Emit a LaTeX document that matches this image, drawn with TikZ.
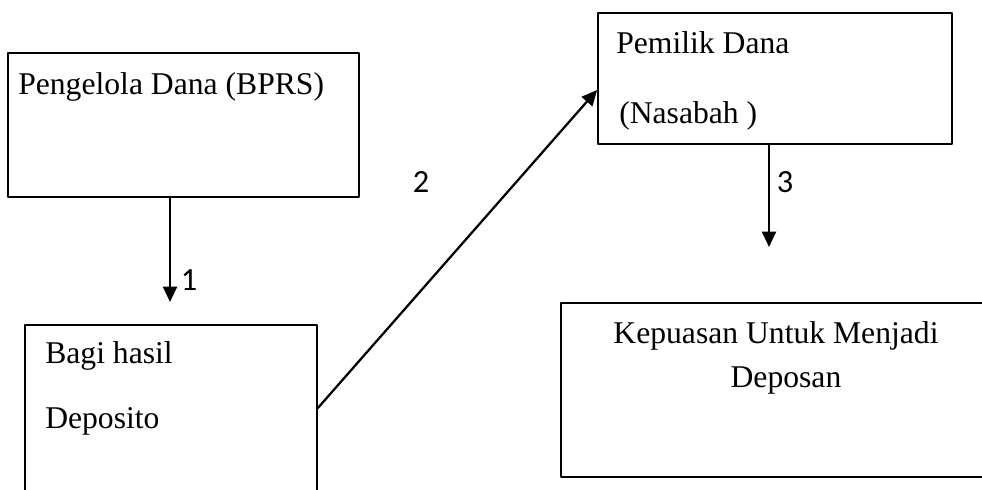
\documentclass[tikz,border=0pt]{standalone}
\usepackage{fontspec}
\setmainfont{Liberation Serif}
\newfontfamily\numfont{Carlito}
\usetikzlibrary{arrows.meta}
\begin{document}
\begin{tikzpicture}[line cap=round,line join=round,>={Triangle[width=10pt,length=11pt]},x=0.025cm,y=-0.025cm,
  box/.style={draw,line width=1.2pt,inner sep=0pt},
  txt/.style={inner sep=0pt,font=\fontsize{22.5}{27}\selectfont},
  num/.style={inner sep=0pt,font=\fontsize{23}{27}\selectfont\numfont},
  link/.style={->,line width=1.6pt}]
\useasboundingbox (0,0) rectangle (982,489);
\clip (0,0) rectangle (982,489);
% boxes
\node [box,minimum width=8.775cm,minimum height=3.6cm] (pengelola) at (183.5,125) {};
\node [box,minimum width=7.3cm,minimum height=5.375cm] (bagi) at (171,432.5) {};
\node [box,minimum width=8.85cm,minimum height=3.275cm] (pemilik) at (775,78.5) {};
\node [box,minimum width=12.475cm,minimum height=4.35cm] (kepuasan) at (810.5,390) {};
% texts
\node [txt,anchor=base west] (tpengelola) at (18,94) {Pengelola Dana (BPRS)};
\node [txt,anchor=base west] (tbagi) at (45,363) {Bagi hasil};
\node [txt,anchor=base west] (tdeposito) at (45,428) {Deposito};
\node [txt,anchor=base west] (tpemilik) at (616,53) {Pemilik Dana};
\node [txt,anchor=base west] (tnasabah) at (619,123) {(Nasabah )};
\node [txt,anchor=base] (tkepuasan) at (776,343) {Kepuasan Untuk Menjadi};
\node [txt,anchor=base] (tdeposan) at (786,387) {Deposan};
% arrows
\coordinate (e1) at (170,302);
\coordinate (e3) at (769,247);
\draw [link] (e1 |- pengelola.south) -- (e1);
\draw [link] (bagi.east |- 0,408) -- (pemilik.west |- 0,90);
\draw [link] (e3 |- pemilik.south) -- (e3);
\node [num] (n1) at (189,280) {1};
\node [num] (n2) at (421,182) {2};
\node [num] (n3) at (785,182) {3};
\end{tikzpicture}
\end{document}
